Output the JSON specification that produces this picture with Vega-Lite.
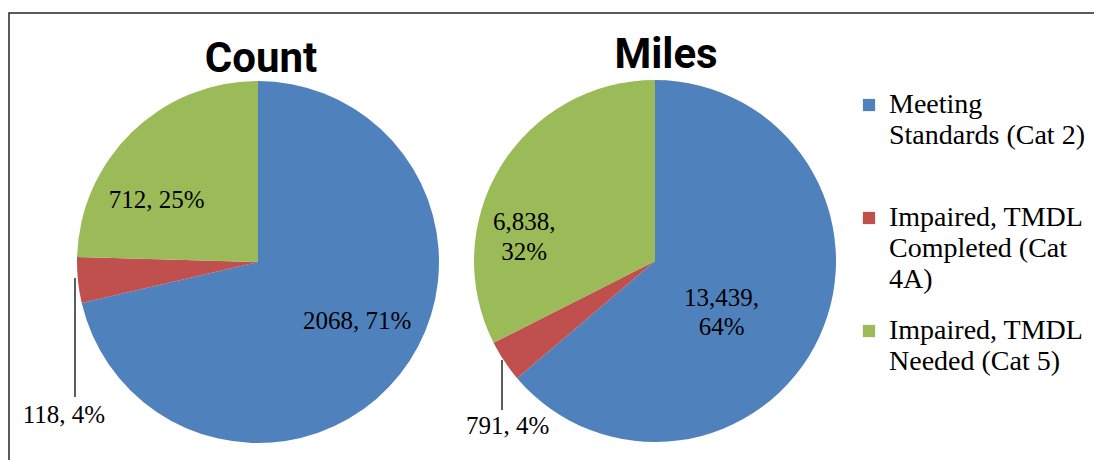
{
  "$schema": "https://vega.github.io/schema/vega-lite/v6.json",
  "width": 1090,
  "height": 452,
  "autosize": {"type": "none"},
  "padding": {"left": 9, "top": 13, "right": -5, "bottom": -5},
  "background": "white",
  "config": {"view": {"stroke": "#262626", "strokeWidth": 1.5}},
  "data": {
    "values": [
      {"chart": "Count", "category": "Meeting Standards (Cat 2)", "order": 1, "value": 2068, "label": "2068, 71%"},
      {"chart": "Count", "category": "Impaired, TMDL Completed (Cat 4A)", "order": 2, "value": 118, "label": "118, 4%"},
      {"chart": "Count", "category": "Impaired, TMDL Needed (Cat 5)", "order": 3, "value": 712, "label": "712, 25%"},
      {"chart": "Miles", "category": "Meeting Standards (Cat 2)", "order": 1, "value": 13439, "label": "13,439,\n64%"},
      {"chart": "Miles", "category": "Impaired, TMDL Completed (Cat 4A)", "order": 2, "value": 791, "label": "791, 4%"},
      {"chart": "Miles", "category": "Impaired, TMDL Needed (Cat 5)", "order": 3, "value": 6838, "label": "6,838,\n32%"}
    ]
  },
  "encoding": {
    "x": {"field": "chart", "type": "nominal", "scale": {"type": "point", "domain": ["Count", "Miles"], "range": [249, 646], "padding": 0}, "axis": null},
    "y": {"field": "chart", "type": "nominal", "scale": {"type": "point", "domain": ["Count", "Miles"], "range": [249, 248], "padding": 0}, "axis": null}
  },
  "layer": [
    {
      "transform": [{"filter": "datum.chart == 'Count'"}],
      "mark": {"type": "arc", "outerRadius": 181},
      "encoding": {
        "theta": {"field": "value", "type": "quantitative", "stack": "normalize"},
        "order": {"field": "order", "type": "quantitative"},
        "color": {
          "field": "category", "type": "nominal",
          "scale": {"domain": ["Meeting Standards (Cat 2)", "Impaired, TMDL Completed (Cat 4A)", "Impaired, TMDL Needed (Cat 5)"], "range": ["#4F81BD", "#C0504D", "#9BBB59"]},
          "legend": {
            "orient": "none", "legendX": 846, "legendY": 78, "title": null, "padding": 0,
            "symbolType": "square", "symbolSize": 150, "symbolStrokeWidth": 0,
            "labelFont": "Liberation Serif", "labelFontSize": 28, "labelColor": "#000000",
            "labelLimit": 300, "labelOffset": 6, "labelBaseline": "top",
            "rowPadding": 23, "gridAlign": "all",
            "labelExpr": "datum.label == 'Meeting Standards (Cat 2)' ? ['Meeting', 'Standards (Cat 2)'] : datum.label == 'Impaired, TMDL Completed (Cat 4A)' ? ['Impaired, TMDL', 'Completed (Cat', '4A)'] : ['Impaired, TMDL', 'Needed (Cat 5)']",
            "encode": {"labels": {"update": {"lineHeight": {"value": 31}, "dy": {"value": -14}}}}
          }
        }
      }
    },
    {
      "transform": [{"filter": "datum.chart == 'Miles'"}],
      "mark": {"type": "arc", "outerRadius": 181},
      "encoding": {
        "theta": {"field": "value", "type": "quantitative", "stack": "normalize"},
        "order": {"field": "order", "type": "quantitative"},
        "color": {"field": "category", "type": "nominal"}
      }
    },
    {
      "transform": [{"filter": "datum.chart == 'Count' && datum.order == 2"}],
      "mark": {"type": "arc", "theta": 3.1416, "theta2": 3.1416, "innerRadius": 0, "outerRadius": 119, "xOffset": -183, "yOffset": 16, "filled": false, "stroke": "#262626", "strokeWidth": 1},
      "encoding": {}
    },
    {
      "transform": [{"filter": "datum.chart == 'Miles' && datum.order == 2"}],
      "mark": {"type": "arc", "theta": 3.1416, "theta2": 3.1416, "innerRadius": 0, "outerRadius": 50, "xOffset": -153, "yOffset": 99, "filled": false, "stroke": "#262626", "strokeWidth": 1},
      "encoding": {}
    },
    {
      "transform": [{"filter": "datum.chart == 'Count' && datum.order == 1"}],
      "mark": {"type": "text", "font": "Roboto", "fontWeight": "bold", "fontSize": 42, "baseline": "alphabetic", "dx": 3, "dy": -190, "color": "#000000"},
      "encoding": {"text": {"field": "chart", "type": "nominal"}}
    },
    {
      "transform": [{"filter": "datum.chart == 'Miles' && datum.order == 1"}],
      "mark": {"type": "text", "font": "Roboto", "fontWeight": "bold", "fontSize": 42, "baseline": "alphabetic", "dx": 11, "dy": -193, "color": "#000000"},
      "encoding": {"text": {"field": "chart", "type": "nominal"}}
    },
    {
      "transform": [{"filter": "datum.chart == 'Count'"}],
      "mark": {"type": "text", "radius": 115, "dx": 9, "dy": -13, "font": "Liberation Serif", "fontSize": 25, "color": "#000000"},
      "encoding": {
        "theta": {"field": "value", "type": "quantitative", "stack": "normalize"},
        "order": {"field": "order", "type": "quantitative"},
        "detail": {"field": "category"},
        "text": {"condition": {"test": "datum.order == 1", "field": "label", "type": "nominal"}, "value": ""}
      }
    },
    {
      "transform": [{"filter": "datum.chart == 'Count'"}],
      "mark": {"type": "text", "radius": 190, "dx": -5, "dy": 134, "font": "Liberation Serif", "fontSize": 25, "color": "#000000"},
      "encoding": {
        "theta": {"field": "value", "type": "quantitative", "stack": "normalize"},
        "order": {"field": "order", "type": "quantitative"},
        "detail": {"field": "category"},
        "text": {"condition": {"test": "datum.order == 2", "field": "label", "type": "nominal"}, "value": ""}
      }
    },
    {
      "transform": [{"filter": "datum.chart == 'Count'"}],
      "mark": {"type": "text", "radius": 118, "dx": -19, "dy": 23, "font": "Liberation Serif", "fontSize": 25, "color": "#000000"},
      "encoding": {
        "theta": {"field": "value", "type": "quantitative", "stack": "normalize"},
        "order": {"field": "order", "type": "quantitative"},
        "detail": {"field": "category"},
        "text": {"condition": {"test": "datum.order == 3", "field": "label", "type": "nominal"}, "value": ""}
      }
    },
    {
      "transform": [{"filter": "datum.chart == 'Miles'"}],
      "mark": {"type": "text", "radius": 80, "dx": -6, "dy": 3, "font": "Liberation Serif", "fontSize": 25, "lineBreak": "\n", "lineHeight": 29, "color": "#000000"},
      "encoding": {
        "theta": {"field": "value", "type": "quantitative", "stack": "normalize"},
        "order": {"field": "order", "type": "quantitative"},
        "detail": {"field": "category"},
        "text": {"condition": {"test": "datum.order == 1", "field": "label", "type": "nominal"}, "value": ""}
      }
    },
    {
      "transform": [{"filter": "datum.chart == 'Miles'"}],
      "mark": {"type": "text", "radius": 195, "dx": 15, "dy": 57, "font": "Liberation Serif", "fontSize": 25, "color": "#000000"},
      "encoding": {
        "theta": {"field": "value", "type": "quantitative", "stack": "normalize"},
        "order": {"field": "order", "type": "quantitative"},
        "detail": {"field": "category"},
        "text": {"condition": {"test": "datum.order == 2", "field": "label", "type": "nominal"}, "value": ""}
      }
    },
    {
      "transform": [{"filter": "datum.chart == 'Miles'"}],
      "mark": {"type": "text", "radius": 130, "dx": -20, "dy": 29, "font": "Liberation Serif", "fontSize": 25, "lineBreak": "\n", "lineHeight": 30, "color": "#000000"},
      "encoding": {
        "theta": {"field": "value", "type": "quantitative", "stack": "normalize"},
        "order": {"field": "order", "type": "quantitative"},
        "detail": {"field": "category"},
        "text": {"condition": {"test": "datum.order == 3", "field": "label", "type": "nominal"}, "value": ""}
      }
    }
  ]
}
